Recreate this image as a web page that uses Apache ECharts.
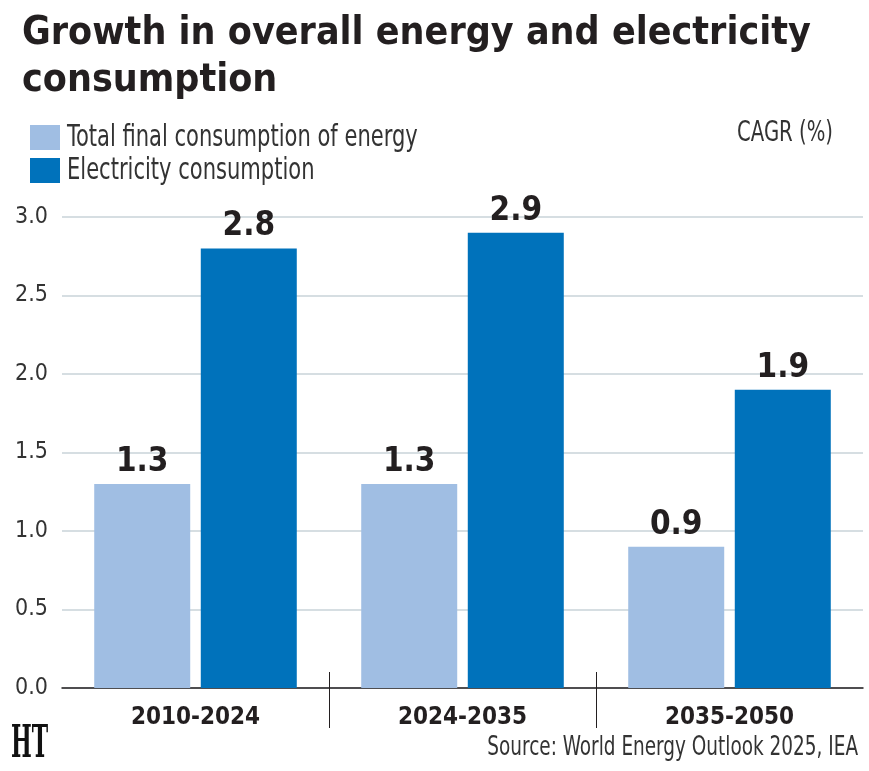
<!DOCTYPE html>
<html><head><meta charset="utf-8">
<script src="https://cdn.jsdelivr.net/npm/echarts@6/dist/echarts.min.js"></script>
<style>html,body{margin:0;padding:0;background:#fff}#c{width:869px;height:771px}</style>
</head><body><div id="c"></div>
<script>
const categories = ['2010-2024', '2024-2035', '2035-2050'];
const totalEnergy = [1.3, 1.3, 0.9];
const electricity = [2.8, 2.9, 1.9];
const seriesNames = ['Total final consumption of energy', 'Electricity consumption'];
const dividerPositions = [1, 2];

const F = '"DejaVu Sans Condensed", "Liberation Sans Narrow", sans-serif';
const chart = echarts.init(document.getElementById('c'), null, {renderer: 'canvas'});
const labelStyle = {show: true, position: 'top', distance: 5, fontFamily: F, fontWeight: 'bold', fontSize: 33, color: '#231f20', formatter: p => p.value.toFixed(1)};
function txt(text, x, y, size, sx, align, color, weight, family) {
  return {type: 'text', x: x, y: y, scaleX: sx, z: 100,
    style: {text: text, x: 0, y: 0, fontFamily: family || F, fontSize: size, fontWeight: weight || 'normal',
      fill: color || '#333', align: align || 'left', verticalAlign: 'middle',
      textAlign: align || 'left', textVerticalAlign: 'middle'}};
}
chart.setOption({
  animation: false,
  title: [
    {text: 'Growth in overall energy and electricity\nconsumption', left: 22, top: 10, padding: [0, 0, 0, 0],
     textStyle: {fontFamily: F, fontWeight: 'bold', fontSize: 39, lineHeight: 47, color: '#231f20'}}
  ],
  legend: {
    orient: 'vertical', left: 30, top: 125, padding: 0, itemWidth: 30, itemHeight: 25, itemGap: 8,
    data: seriesNames, icon: 'rect', formatter: () => '',
    textStyle: {fontFamily: F, fontSize: 12, color: '#333'}
  },
  graphic: [
    txt(seriesNames[0], 67, 138, 30, 0.78),
    txt(seriesNames[1], 67, 171, 30, 0.78),
    txt('CAGR (%)', 833, 134, 28, 0.78, 'right'),
    txt('Source: World Energy Outlook 2025, IEA', 858, 748, 27, 0.76, 'right'),
    txt('HT', 11, 746, 44, 0.5, 'left', '#111', 'bold', '"DejaVu Serif", serif')
  ],
  grid: {left: 62, right: 6, top: 217, bottom: 83, containLabel: false},
  xAxis: [
    {type: 'category', data: categories,
     axisLine: {lineStyle: {color: '#231f20', width: 1.5}},
     axisTick: {show: false},
     axisLabel: {fontFamily: F, fontWeight: 'bold', fontSize: 24, color: '#231f20', margin: 18}},
    {type: 'value', min: 0, max: 3, position: 'bottom', show: true,
     axisLine: {show: false}, axisLabel: {show: false}, splitLine: {show: false},
     axisTick: {show: true, inside: false, length: 40, customValues: dividerPositions, lineStyle: {color: '#231f20', width: 1}}},
    {type: 'value', min: 0, max: 3, position: 'bottom', show: true,
     axisLine: {show: false}, axisLabel: {show: false}, splitLine: {show: false},
     axisTick: {show: true, inside: true, length: 16, customValues: dividerPositions, lineStyle: {color: '#231f20', width: 1}}}
  ],
  yAxis: {
    type: 'value', min: 0, max: 3, interval: 0.5,
    axisLine: {show: false}, axisTick: {show: false},
    axisLabel: {fontFamily: F, fontSize: 23, color: '#333', margin: 14, formatter: v => v.toFixed(1)},
    splitLine: {lineStyle: {color: '#c9d3d8', width: 1.5}}
  },
  series: [
    {name: seriesNames[0], type: 'bar', data: totalEnergy, barWidth: 96, barGap: '11%',
     itemStyle: {color: '#a0bee3'}, label: labelStyle},
    {name: seriesNames[1], type: 'bar', data: electricity, barWidth: 96,
     itemStyle: {color: '#0072bb'}, label: labelStyle}
  ]
});
</script></body></html>
